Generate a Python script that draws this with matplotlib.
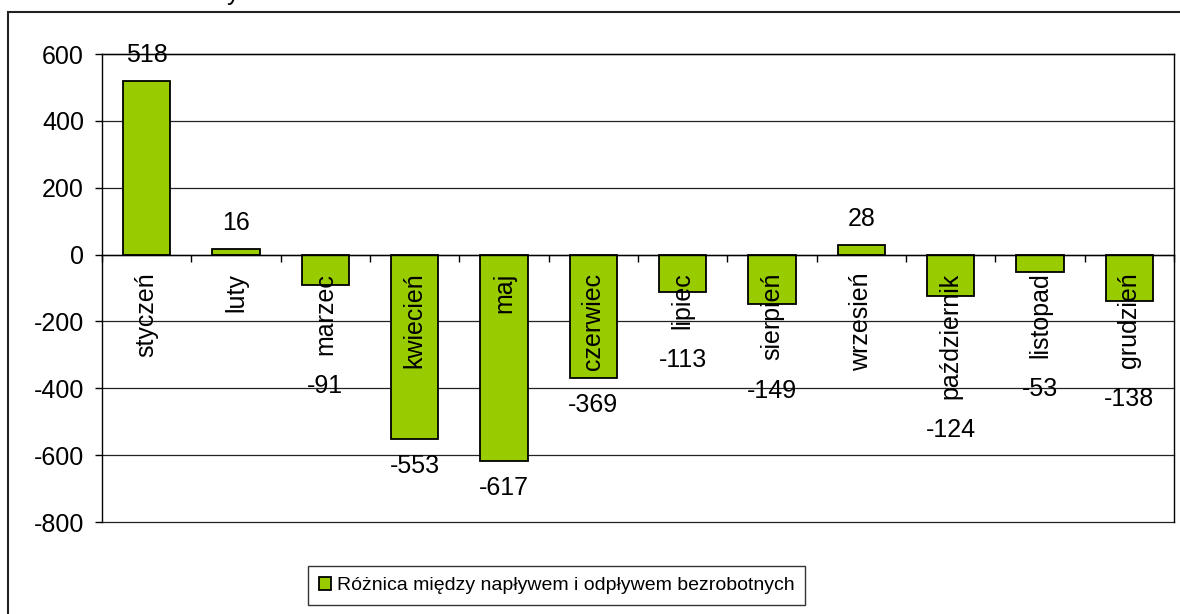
import numpy as np
import matplotlib
matplotlib.use("Agg")
import matplotlib.pyplot as plt
from matplotlib.patches import Rectangle

plt.rcParams['font.family'] = ['Liberation Sans', 'DejaVu Sans']
plt.rcParams['axes.unicode_minus'] = False

# dane
months = ['styczeń', 'luty', 'marzec', 'kwiecień', 'maj', 'czerwiec',
          'lipiec', 'sierpień', 'wrzesień', 'październik', 'listopad', 'grudzień']
values = [518, 16, -91, -553, -617, -369, -113, -149, 28, -124, -53, -138]
series_name = 'Różnica między napływem i odpływem bezrobotnych'
yticks = [-800, -600, -400, -200, 0, 200, 400, 600]

W, H = 1180, 614
fig = plt.figure(figsize=(W / 100, H / 100), dpi=100)
ax = fig.add_axes([102 / W, 1 - 522 / H, (1174 - 102) / W, (522 - 54) / H])

fs = 18
x = np.arange(len(months))
bars = ax.bar(x, values, width=0.53, color='#99CC00', edgecolor='black', linewidth=1.3, zorder=2)

ax.set_xlim(-0.5, len(months) - 0.5)
ax.set_ylim(-800, 600)
ax.set_yticks(yticks)
ax.set_yticklabels([str(t) for t in yticks], fontsize=fs)
ax.tick_params(axis='y', direction='out', length=5, width=1, pad=8)
# linie siatki pod slupkami
for t in yticks:
    ax.axhline(t, color='#222222', linewidth=0.9, zorder=1, clip_on=False)
ax.set_axisbelow(False)

# os X na poziomie zera
ax.spines['bottom'].set_position(('data', 0))
for s in ax.spines.values():
    s.set_color('black')
    s.set_linewidth(1)
ax.set_xticks(np.arange(-0.5, len(months), 1))
ax.set_xticklabels([])
ax.tick_params(axis='x', which='major', direction='out', length=5, width=1)
ax.set_xticks(x, minor=True)
ax.set_xticklabels(months, minor=True, rotation=90, fontsize=fs)
ax.tick_params(axis='x', which='minor', length=0, pad=13)

# etykiety wartosci
fig.canvas.draw()
r = fig.canvas.get_renderer()
labs = ax.get_xticklabels(minor=True)
inv = ax.transData.inverted()
for i, v in enumerate(values):
    end = ax.transData.transform((i, v))[1]
    if v >= 0:
        yd = end + 26
    else:
        lb = labs[i].get_window_extent(r).y0
        yd = min(end - 27, lb - 31)
    yv = inv.transform((0, yd))[1]
    ax.text(i, yv, str(v), ha='center', va='center', fontsize=fs, zorder=5)

leg = ax.legend([bars], [series_name], loc='upper left', bbox_to_anchor=(308 / W, 1 - 566 / H),
                bbox_transform=fig.transFigure, frameon=True, fancybox=False, fontsize=14,
                edgecolor='black', handlelength=0.65, handleheight=0.65, handletextpad=0.3,
                borderpad=0.55, borderaxespad=0)
leg.get_frame().set_linewidth(1)

# ramka wykresu
fig.patches.append(Rectangle((8 / W, -0.05), 1.2, 1 - 12 / H + 0.05, transform=fig.transFigure,
                             fill=False, edgecolor='#222222', linewidth=1.5))
fig.text(233 / W, 1.0, 'y', fontsize=fs, ha='center', va='baseline')

fig.savefig('out.png', dpi=100)
